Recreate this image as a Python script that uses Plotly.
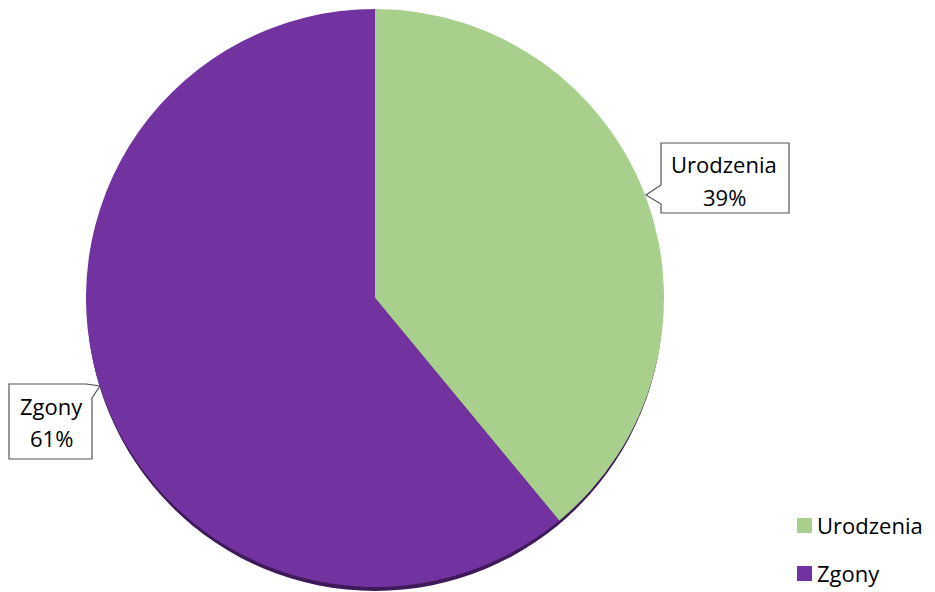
import plotly.graph_objects as go

labels = ["Urodzenia", "Zgony"]
values = [39, 61]
colors = ["#A8CF8C", "#7232A0"]

# page has an 8px body margin; the figure fills the rest of the 935x592 window
OFF = 8
W, H = 935 - OFF, 592 - OFF
cx, cy, r = 375, 298, 289  # window-pixel layout

def px(x):
    return (x - OFF) / W

def py(y):
    return 1 - (y - OFF) / H

fig = go.Figure()
fig.add_trace(go.Pie(
    labels=labels, values=values, sort=False, direction="clockwise", rotation=0,
    marker=dict(colors=colors, line=dict(width=0)),
    textinfo="none", hoverinfo="label+percent", showlegend=False,
    domain=dict(x=[px(cx - r), px(cx + r)], y=[py(cy + r), py(cy - r)]),
))

shapes = [
    # bottom shadow
    dict(type="circle", xref="paper", yref="paper", layer="below",
         x0=px(cx - r + 1), x1=px(cx + r - 1), y0=py(cy + r + 4), y1=py(cy - r + 4),
         fillcolor="#3E1A5A", line=dict(width=0)),
]

def poly(pts):
    path = "M " + " L ".join(f"{px(a):.5f},{py(b):.5f}" for a, b in pts) + " Z"
    return dict(type="path", xref="paper", yref="paper", path=path,
                fillcolor="white", line=dict(color="#555555", width=1.2))

shapes.append(poly([(661, 143), (789, 143), (789, 213), (661, 213),
                    (661, 204), (646, 195), (661, 185)]))
shapes.append(poly([(9, 384), (86, 384), (100, 386), (92, 398),
                    (92, 459), (9, 459)]))

fnt = dict(size=22, color="black", family="Open Sans")

def txt(x, y, s, anchor="center"):
    return dict(x=px(x), y=py(y), xref="paper", yref="paper", showarrow=False,
                xanchor=anchor, yanchor="middle", text=s, font=fnt)

annotations = [
    txt(724, 164, labels[0]),
    txt(724, 197, f"{values[0]}%"),
    txt(51, 406, labels[1]),
    txt(51, 438, f"{values[1]}%"),
]

# manual legend
leg_y = [525, 573]
for lab, col, yy in zip(labels, colors, leg_y):
    shapes.append(dict(type="rect", xref="paper", yref="paper",
                       x0=px(797), x1=px(812), y0=py(yy + 8), y1=py(yy - 7),
                       fillcolor=col, line=dict(width=0)))
    annotations.append(txt(815, yy, lab, anchor="left"))

fig.update_layout(
    width=W, height=H,
    margin=dict(l=0, r=0, t=0, b=0),
    paper_bgcolor="white", plot_bgcolor="white",
    shapes=shapes, annotations=annotations,
    showlegend=False,
)

fig.write_html("out.html")
